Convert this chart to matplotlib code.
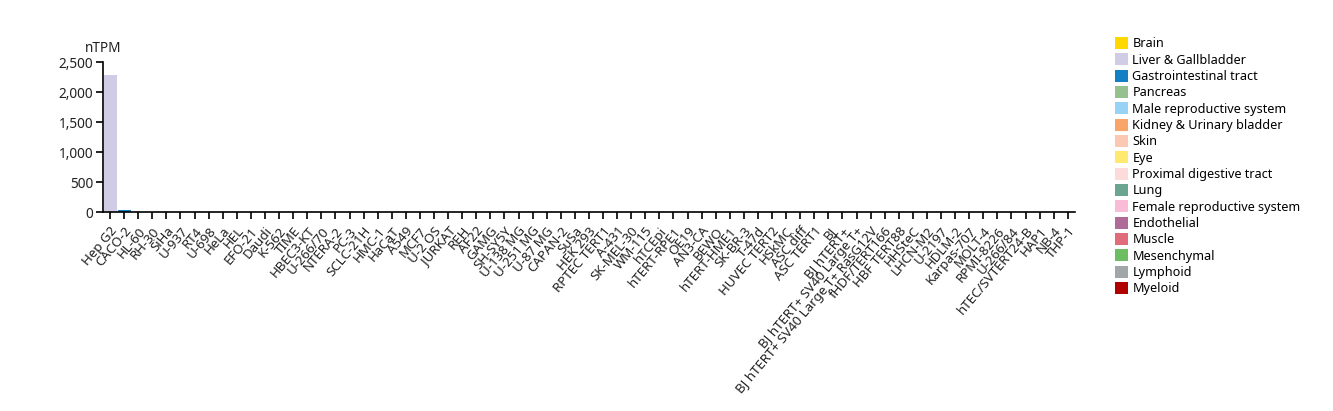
import matplotlib
matplotlib.use("Agg")
import matplotlib.pyplot as plt
from matplotlib.patches import Patch
from matplotlib.ticker import FuncFormatter

plt.rcParams['font.family'] = ['Noto Sans', 'DejaVu Sans']

cell_lines = ["Hep G2", "CACO-2", "HL-60", "RH-30", "SiHa", "U-937", "RT4", "U-698", "HeLa", "HEL",
              "EFO-21", "Daudi", "K-562", "TIME", "HBEC3-KT", "U-266/70", "NTERA-2", "PC-3", "SCLC-21H",
              "HMC-1", "HaCaT", "A549", "MCF7", "U-2 OS", "JURKAT", "REH", "AF22", "GAMG", "SH-SY5Y",
              "U-138 MG", "U-251 MG", "U-87 MG", "CAPAN-2", "SuSa", "HEK 293", "RPTEC TERT1", "A-431",
              "SK-MEL-30", "WM-115", "hTCEpi", "hTERT-RPE1", "OE19", "AN3-CA", "BEWO", "hTERT-HME1",
              "SK-BR-3", "T-47d", "HUVEC TERT2", "HSkMC", "ASC diff", "ASC TERT1", "BJ", "BJ hTERT+",
              "BJ hTERT+ SV40 Large T+", "BJ hTERT+ SV40 Large T+ RasG12V", "fHDF/TERT166", "HBF TERT88",
              "HHSteC", "LHCN-M2", "U-2197", "HDLM-2", "Karpas-707", "MOLT-4", "RPMI-8226", "U-266/84",
              "hTEC/SVTERT24-B", "HAP1", "NB-4", "THP-1"]

tissue = ["Liver & Gallbladder", "Gastrointestinal tract", "Myeloid", "Muscle", "Female reproductive system",
          "Myeloid", "Kidney & Urinary bladder", "Lymphoid", "Female reproductive system", "Myeloid",
          "Female reproductive system", "Lymphoid", "Myeloid", "Endothelial", "Lung", "Lymphoid",
          "Male reproductive system", "Male reproductive system", "Lung", "Myeloid", "Skin", "Lung",
          "Female reproductive system", "Mesenchymal", "Lymphoid", "Lymphoid", "Brain", "Brain", "Brain",
          "Brain", "Brain", "Brain", "Pancreas", "Male reproductive system", "Kidney & Urinary bladder",
          "Kidney & Urinary bladder", "Skin", "Skin", "Skin", "Eye", "Eye", "Proximal digestive tract",
          "Female reproductive system", "Female reproductive system", "Female reproductive system",
          "Female reproductive system", "Female reproductive system", "Endothelial", "Muscle",
          "Mesenchymal", "Mesenchymal", "Skin", "Skin", "Skin", "Skin", "Mesenchymal", "Mesenchymal",
          "Liver & Gallbladder", "Muscle", "Mesenchymal", "Lymphoid", "Lymphoid", "Lymphoid", "Lymphoid",
          "Lymphoid", "Kidney & Urinary bladder", "Myeloid", "Myeloid", "Myeloid"]

ntpm = [2290, 35, 4, 3, 1, 1, 0.5, 0.5, 0.5, 0.5,
        0.5, 0.5, 0.5, 0.5, 0.5, 0.5, 0.5, 0.5, 0.5, 0.5,
        0.5, 0.5, 0.5, 0.5, 0.5, 0.5, 0.3, 0.3, 0.3, 0.3,
        0.3, 0.3, 0.3, 0.3, 0.3, 0.3, 0.3, 0.3, 0.3, 0.3,
        0.3, 0.3, 0.3, 0.3, 0.2, 0.2, 0.2, 0.2, 0.2, 0.2,
        0.2, 0.2, 0.2, 0.2, 0.2, 0.2, 0.2, 0.2, 0.2, 0.1,
        0.1, 0.1, 0.1, 0.1, 0.1, 0.1, 0.1, 0.1, 0.1]

legend_names = ["Brain", "Liver & Gallbladder", "Gastrointestinal tract", "Pancreas",
                "Male reproductive system", "Kidney & Urinary bladder", "Skin", "Eye",
                "Proximal digestive tract", "Lung", "Female reproductive system", "Endothelial",
                "Muscle", "Mesenchymal", "Lymphoid", "Myeloid"]
legend_colors = ["#ffd800", "#d0cce6", "#1380c5", "#96c08e", "#97d3f4", "#f9a468", "#fbc8b2",
                 "#ffe96e", "#fddbdb", "#6ba592", "#f8bcd6", "#b06a98", "#e06b7b", "#6dbd63",
                 "#a1a7a9", "#b00000"]
color_of = dict(zip(legend_names, legend_colors))

fig = plt.figure(figsize=(13.33, 4.11), dpi=100)
ax = fig.add_axes([0.0773, 0.484, 0.729, 0.365])

x = range(len(cell_lines))
ax.bar(x, ntpm, width=0.92, color=[color_of[t] for t in tissue], edgecolor='none')
ax.set_xlim(-0.5, len(cell_lines) - 0.5)
ax.set_ylim(0, 2500)
ax.set_yticks([0, 500, 1000, 1500, 2000, 2500])
ax.yaxis.set_major_formatter(FuncFormatter(lambda v, p: f"{int(v):,}"))
ax.set_xticks(list(x))
ax.set_xticklabels(cell_lines, rotation=50, ha='right', rotation_mode='anchor', fontsize=9.6)
ax.tick_params(axis='y', labelsize=9.8, length=5, width=1.2, pad=2, labelcolor='#222222')
ax.tick_params(axis='x', length=5, width=1.2, pad=4, labelcolor='#222222')
for s in ['top', 'right']:
    ax.spines[s].set_visible(False)
for s in ['left', 'bottom']:
    ax.spines[s].set_linewidth(1.2)
ax.text(0.0, 1.04, "nTPM", transform=ax.transAxes, fontsize=9.8, ha='center', va='bottom',
        color='#222222')

handles = [Patch(facecolor=c, edgecolor='none') for c in legend_colors]
fig.legend(handles, legend_names, loc='upper left', bbox_to_anchor=(0.8325, 0.922), frameon=False,
           fontsize=9.1, handlelength=1.05, handleheight=1.05, handletextpad=0.35,
           labelspacing=0.25, borderaxespad=0)

fig.savefig("out.png", dpi=100)
